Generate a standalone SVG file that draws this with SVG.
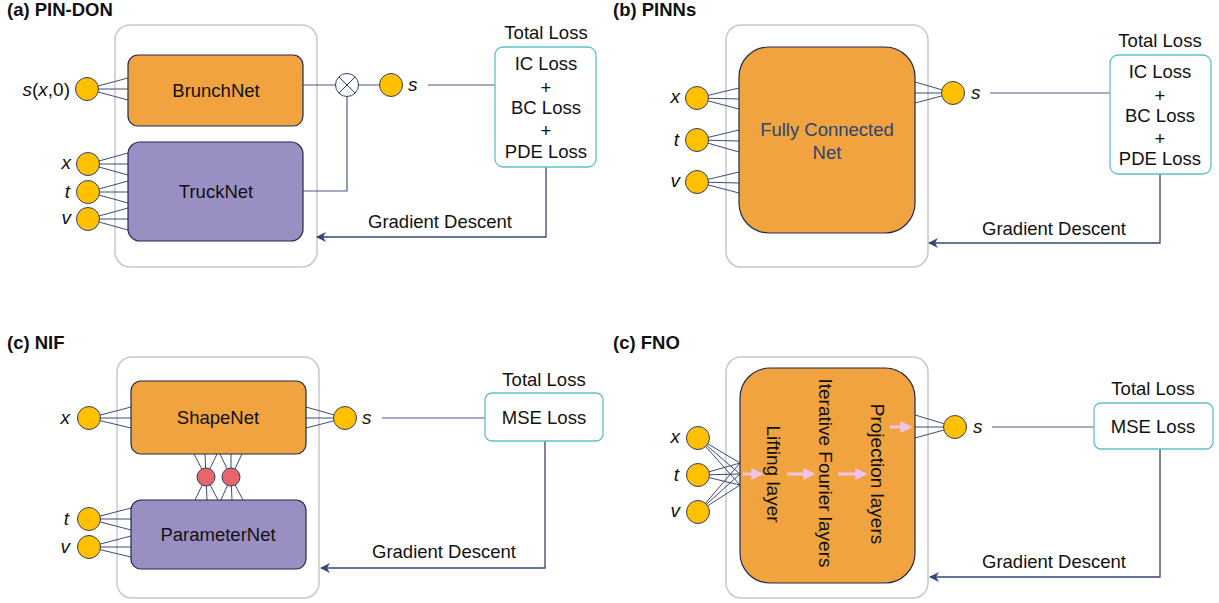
<svg xmlns="http://www.w3.org/2000/svg" width="1219" height="603" viewBox="0 0 1219 603">
  <style>
    text { font-family: "Liberation Sans", Arial, sans-serif; fill: #111; }
    .title { font-size: 18.5px; font-weight: bold; }
    .lbl { font-size: 18.5px; }
    .ctr { text-anchor: middle; }
    .var { font-size: 19px; font-style: italic; text-anchor: end; }
    .svar { font-size: 19px; font-style: italic; }
    .up { font-style: normal; }
    .frame { fill: #fff; stroke: #c8c8c8; stroke-width: 1.5; }
    .orange { fill: #f0a33f; stroke: #1f2b4d; stroke-width: 1.2; }
    .purple { fill: #9a8fc3; stroke: #1f2b4d; stroke-width: 1.2; }
    .loss { fill: #fff; stroke: #5fc0ca; stroke-width: 1.3; }
    .node { fill: #ffc000; stroke: #2f3f6f; stroke-width: 1; }
    .red { fill: #e8666a; stroke: #2f3f6f; stroke-width: 1; }
    .fan { stroke: #3b4c7e; stroke-width: 1; fill: none; }
    .wire { stroke: #4a5987; stroke-width: 1.2; fill: none; }
    .grad { stroke: #34457a; stroke-width: 1.3; fill: none; marker-end: url(#arrow); }
    .pink { stroke: #f0c4ea; stroke-width: 3; fill: none; marker-end: url(#pinkhead); }
    .fcn { fill: #2c4476; }
  </style>
  <defs>
    <marker id="arrow" viewBox="0 0 10 10" refX="9" refY="5" markerWidth="10" markerHeight="10" markerUnits="userSpaceOnUse" orient="auto">
      <path d="M0,0 L10,5 L0,10 L3,5 z" fill="#34457a"/>
    </marker>
    <marker id="pinkhead" viewBox="0 0 10 10" refX="8" refY="5" markerWidth="4" markerHeight="4" orient="auto">
      <path d="M0,0 L10,5 L0,10 z" fill="#f0c4ea"/>
    </marker>
  </defs>

  <!-- panel titles -->
  <g id="titles">
    <text class="title" x="7" y="16">(a) PIN-DON</text>
    <text class="title" x="613" y="16">(b) PINNs</text>
    <text class="title" x="7" y="349">(c) NIF</text>
    <text class="title" x="613" y="349">(c) FNO</text>
  </g>

  <!-- model frames -->
  <g id="frames">
    <rect class="frame" x="115" y="25" width="202" height="242" rx="15"/>
    <rect class="frame" x="726" y="25" width="202" height="242" rx="15"/>
    <rect class="frame" x="117" y="357" width="202" height="241" rx="15"/>
    <rect class="frame" x="726" y="357" width="202" height="241" rx="15"/>
  </g>

  <!-- connectors -->
  <g id="connectors">
    <!-- (a) inputs -->
    <path class="fan" d="M87,89 L128,78 M87,89 L128,89 M87,89 L128,100"/>
    <path class="fan" d="M88,164 L128,153 M88,164 L128,164 M88,164 L128,175"/>
    <path class="fan" d="M88,192 L128,181 M88,192 L128,192 M88,192 L128,203"/>
    <path class="fan" d="M88,219 L128,208 M88,219 L128,219 M88,219 L128,230"/>
    <!-- (a) branch x trunk -->
    <path class="wire" d="M303,85 L335,85 M358,85 L379,85 M303,191 L347,191 L347,97"/>
    <path class="wire" d="M428,85 L495,85"/>
    <path class="grad" d="M546,167 L546,237 L317,237"/>

    <!-- (b) -->
    <path class="fan" d="M697,98 L739,88 M697,98 L739,99 M697,98 L739,109"/>
    <path class="fan" d="M697,140 L739,130 M697,140 L739,141 M697,140 L739,152"/>
    <path class="fan" d="M697,182 L739,172 M697,182 L739,183 M697,182 L739,193"/>
    <path class="fan" d="M915,82 L953,93 M915,93 L953,93 M915,103 L953,93"/>
    <path class="wire" d="M990,93 L1110,93"/>
    <path class="grad" d="M1160,174 L1160,243 L929,243"/>

    <!-- (c) NIF -->
    <path class="fan" d="M89,418 L131,407 M89,418 L131,418 M89,418 L131,428"/>
    <path class="fan" d="M306,407 L345,418 M306,418 L345,418 M306,428 L345,418"/>
    <path class="fan" d="M89,519 L131,508 M89,519 L131,519 M89,519 L131,530"/>
    <path class="fan" d="M89,547 L131,536 M89,547 L131,547 M89,547 L131,557"/>
    <path class="fan" d="M206,477 L194,454 M206,477 L205,454 M206,477 L217,454 M206,477 L195,500 M206,477 L207,500 M206,477 L218,500"/>
    <path class="fan" d="M231,477 L220,454 M231,477 L231,454 M231,477 L242,454 M231,477 L221,500 M231,477 L232,500 M231,477 L243,500"/>
    <path class="wire" d="M382,418 L485,418"/>
    <path class="grad" d="M545,441 L545,568 L321,568"/>

    <!-- (d) FNO -->
    <path class="fan" d="M698,438 L740,463 M698,438 L740,474 M698,438 L740,485"/>
    <path class="fan" d="M698,475 L740,463 M698,475 L740,474 M698,475 L740,485"/>
    <path class="fan" d="M698,512 L740,463 M698,512 L740,474 M698,512 L740,485"/>
    <path class="fan" d="M915,415 L955,427 M915,427 L955,427 M915,438 L955,427"/>
    <path class="wire" d="M992,427 L1094,427"/>
    <path class="grad" d="M1160,449 L1160,577 L930,577"/>
  </g>

  <!-- (a) PIN-DON -->
  <g id="brunchnet">
    <rect class="orange" x="128" y="55" width="175" height="71" rx="10"/>
    <text class="lbl ctr" x="216" y="97">BrunchNet</text>
  </g>
  <g id="trucknet">
    <rect class="purple" x="128" y="142" width="175" height="99" rx="12"/>
    <text class="lbl ctr" x="216" y="198">TruckNet</text>
  </g>
  <g id="a-inputs">
    <circle class="node" cx="87" cy="89" r="11.5"/>
    <text class="var" x="70" y="96">s<tspan class="up">(</tspan>x<tspan class="up">,0)</tspan></text>
    <circle class="node" cx="88" cy="164" r="11.5"/>
    <text class="var" x="71" y="169">x</text>
    <circle class="node" cx="88" cy="192" r="11.5"/>
    <text class="var" x="70" y="198">t</text>
    <circle class="node" cx="88" cy="219" r="11.5"/>
    <text class="var" x="71" y="224">v</text>
  </g>
  <g id="a-product">
    <circle cx="347" cy="85" r="11.5" fill="#fff" stroke="#2f3f6f" stroke-width="1"/>
    <path d="M338.9,76.9 L355.1,93.1 M355.1,76.9 L338.9,93.1" stroke="#2f3f6f" stroke-width="1"/>
  </g>
  <g id="a-output">
    <circle class="node" cx="391" cy="85" r="11.5"/>
    <text class="svar" x="408" y="91">s</text>
  </g>
  <g id="a-loss">
    <text class="lbl ctr" x="546" y="39">Total Loss</text>
    <rect class="loss" x="495" y="47" width="101" height="120" rx="8"/>
    <text class="lbl ctr" x="546" y="70">IC Loss</text>
    <text class="lbl ctr" x="546" y="94">+</text>
    <text class="lbl ctr" x="546" y="114">BC Loss</text>
    <text class="lbl ctr" x="546" y="137">+</text>
    <text class="lbl ctr" x="546" y="158">PDE Loss</text>
  </g>
  <text class="lbl ctr" x="440" y="228">Gradient Descent</text>

  <!-- (b) PINNs -->
  <g id="fcn">
    <rect class="orange" x="739" y="47" width="176" height="186" rx="30"/>
    <text class="lbl ctr fcn" x="827" y="136">Fully Connected</text>
    <text class="lbl ctr fcn" x="827" y="159">Net</text>
  </g>
  <g id="b-inputs">
    <circle class="node" cx="697" cy="98" r="11.5"/>
    <text class="var" x="680" y="103">x</text>
    <circle class="node" cx="697" cy="140" r="11.5"/>
    <text class="var" x="679" y="146">t</text>
    <circle class="node" cx="697" cy="182" r="11.5"/>
    <text class="var" x="680" y="187">v</text>
  </g>
  <g id="b-output">
    <circle class="node" cx="953" cy="93" r="11.5"/>
    <text class="svar" x="971" y="99">s</text>
  </g>
  <g id="b-loss">
    <text class="lbl ctr" x="1160" y="47">Total Loss</text>
    <rect class="loss" x="1110" y="55" width="101" height="119" rx="8"/>
    <text class="lbl ctr" x="1160" y="78">IC Loss</text>
    <text class="lbl ctr" x="1160" y="102">+</text>
    <text class="lbl ctr" x="1160" y="122">BC Loss</text>
    <text class="lbl ctr" x="1160" y="145">+</text>
    <text class="lbl ctr" x="1160" y="165">PDE Loss</text>
  </g>
  <text class="lbl ctr" x="1054" y="235">Gradient Descent</text>

  <!-- (c) NIF -->
  <g id="shapenet">
    <rect class="orange" x="131" y="381" width="175" height="73" rx="10"/>
    <text class="lbl ctr" x="218" y="424">ShapeNet</text>
  </g>
  <g id="parameternet">
    <rect class="purple" x="131" y="500" width="175" height="69" rx="10"/>
    <text class="lbl ctr" x="218" y="541">ParameterNet</text>
  </g>
  <g id="c-latent">
    <circle class="red" cx="206" cy="477" r="9"/>
    <circle class="red" cx="231" cy="477" r="9"/>
  </g>
  <g id="c-inputs">
    <circle class="node" cx="89" cy="418" r="11.5"/>
    <text class="var" x="70" y="424">x</text>
    <circle class="node" cx="89" cy="519" r="11.5"/>
    <text class="var" x="69" y="525">t</text>
    <circle class="node" cx="89" cy="547" r="11.5"/>
    <text class="var" x="70" y="553">v</text>
  </g>
  <g id="c-output">
    <circle class="node" cx="345" cy="418" r="11.5"/>
    <text class="svar" x="362" y="424">s</text>
  </g>
  <g id="c-loss">
    <text class="lbl ctr" x="544" y="386">Total Loss</text>
    <rect class="loss" x="485" y="393" width="118" height="48" rx="7"/>
    <text class="lbl ctr" x="544" y="424">MSE Loss</text>
  </g>
  <text class="lbl ctr" x="444" y="558">Gradient Descent</text>

  <!-- (d) FNO -->
  <g id="fno">
    <rect class="orange" x="740" y="368" width="175" height="215" rx="30"/>
    <path class="pink" d="M743,474 L761,474"/>
    <path class="pink" d="M787,474 L813,474"/>
    <path class="pink" d="M838,474 L865,474"/>
    <path class="pink" d="M890,427 L910,427"/>
    <text class="lbl ctr" style="font-size:19px" transform="translate(773,474) rotate(90)" y="6.5">Lifting layer</text>
    <text class="lbl ctr" style="font-size:19px" transform="translate(825,473) rotate(90)" y="6.5">Iterative Fourier layers</text>
    <text class="lbl ctr" style="font-size:19px" transform="translate(877,474) rotate(90)" y="6.5">Projection layers</text>
  </g>
  <g id="d-inputs">
    <circle class="node" cx="698" cy="438" r="11.5"/>
    <text class="var" x="680" y="443">x</text>
    <circle class="node" cx="698" cy="475" r="11.5"/>
    <text class="var" x="679" y="481">t</text>
    <circle class="node" cx="698" cy="512" r="11.5"/>
    <text class="var" x="680" y="517">v</text>
  </g>
  <g id="d-output">
    <circle class="node" cx="955" cy="427" r="11.5"/>
    <text class="svar" x="973" y="433">s</text>
  </g>
  <g id="d-loss">
    <text class="lbl ctr" x="1153" y="395">Total Loss</text>
    <rect class="loss" x="1094" y="403" width="119" height="46" rx="7"/>
    <text class="lbl ctr" x="1153" y="433">MSE Loss</text>
  </g>
  <text class="lbl ctr" x="1054" y="568">Gradient Descent</text>
</svg>
